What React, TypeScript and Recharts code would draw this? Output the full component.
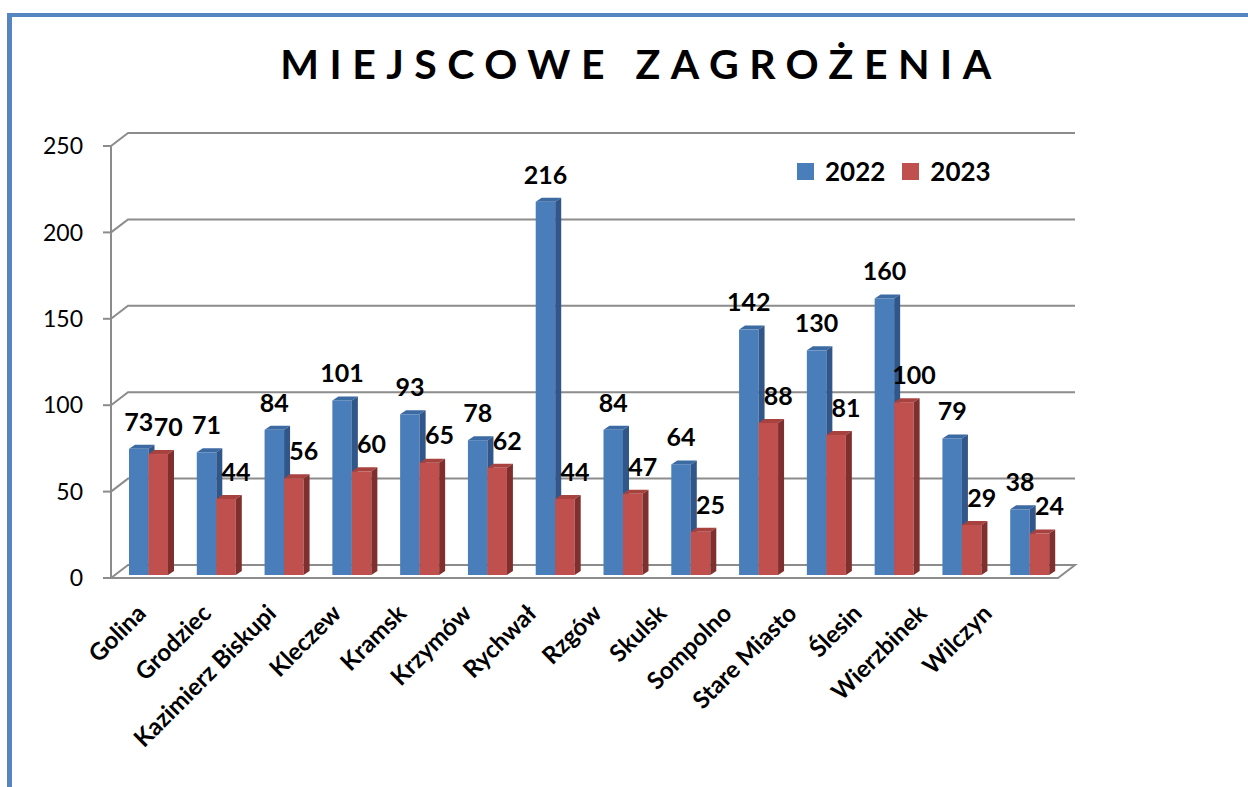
import React from 'react';
import { BarChart, Bar, XAxis, YAxis, CartesianGrid, LabelList } from 'recharts';

const categories = ["Golina", "Grodziec", "Kazimierz Biskupi", "Kleczew", "Kramsk", "Krzymów", "Rychwał", "Rzgów", "Skulsk", "Sompolno", "Stare Miasto", "Ślesin", "Wierzbinek", "Wilczyn"];
const values2022 = [73, 71, 84, 101, 93, 78, 216, 84, 64, 142, 130, 160, 79, 38];
const values2023 = [70, 44, 56, 60, 65, 62, 44, 47, 25, 88, 81, 100, 29, 24];
const seriesNames = ["2022", "2023"];
const yTicks = [0, 50, 100, 150, 200, 250];
const title = "MIEJSCOWE ZAGROŻENIA";

const FONT = 'Lato, "Open Sans", sans-serif';
const GRID = '#8c8c8c';
const DX = 17;
const DY = 13;
const FLOOR_Y = 578;
const PLOT_LEFT = 111;

const blue = { front: '#4A7EBB', top: '#3C6AA3', side: '#30568A' };
const red = { front: '#C0504D', top: '#A8423F', side: '#7F2F2D' };

const data = categories.map((name, i) => ({
  name,
  y2022: values2022[i],
  y2023: values2023[i],
}));

// 3d box: front face + top + right side
const box3d = (c: typeof blue) => (props: any) => {
  const { x, y, width, height } = props;
  if (height == null || width == null) return <g />;
  const d = 6;
  const t = 4;
  const yy = y - 3;
  return (
    <g>
      <rect x={x} y={yy} width={width} height={height} fill={c.front} />
      <polygon
        points={`${x},${yy} ${x + d},${yy - t} ${x + width + d},${yy - t} ${x + width},${yy}`}
        fill={c.top}
      />
      <polygon
        points={`${x + width},${yy} ${x + width + d},${yy - t} ${x + width + d},${yy + height - t} ${x + width},${yy + height}`}
        fill={c.side}
      />
    </g>
  );
};

const valueLabel = (shift: number) => (props: any) => {
  const { x, y, width, value } = props;
  return (
    <text
      x={x + width / 2 + shift}
      y={y - 30}
      dy="0.35em"
      textAnchor="middle"
      fontFamily={FONT}
      fontWeight="bold"
      fontSize={25}
      fill="#000"
    >
      {value}
    </text>
  );
};

// back-wall grid lines with the little diagonal from the front axis
const gridLine = (props: any) => {
  const { x1, x2, y1, index } = props;
  const right = x2 + 11;
  if (Math.abs(y1 - FLOOR_Y) < 1) {
    return (
      <polyline
        key={`g-${index}`}
        points={`${x1},${y1} ${x2 - 6},${y1} ${right},${y1 - DY} ${x1 + DX},${y1 - DY} ${x1},${y1}`}
        fill="none"
        stroke={GRID}
        strokeWidth={2}
      />
    );
  }
  return (
    <polyline
      key={`g-${index}`}
      points={`${x1},${y1} ${x1 + DX},${y1 - DY} ${right},${y1 - DY}`}
      fill="none"
      stroke={GRID}
      strokeWidth={2}
    />
  );
};

const CategoryTick = (props: any) => {
  const { x, y, payload } = props;
  const tx = PLOT_LEFT + 4 + (x - PLOT_LEFT - 4) * 0.96 - 6;
  const ty = y + 23;
  return (
    <text
      transform={`translate(${tx},${ty}) rotate(-45)`}
      textAnchor="end"
      dy="0.35em"
      fontFamily={FONT}
      fontWeight="bold"
      fontSize={24}
      fill="#000"
    >
      {payload.value}
    </text>
  );
};

export default function App() {
  return (
    <div style={{ position: 'absolute', left: 0, top: 0, width: 1248, height: 787, overflow: 'hidden', background: '#fff' }}>
      <div
        style={{
          position: 'absolute',
          left: 7,
          top: 13,
          width: 1400,
          height: 900,
          borderLeft: '5px solid #5785C1',
          borderTop: '4px solid #5785C1',
        }}
      />
      <svg width={1248} height={110} style={{ position: 'absolute', left: 0, top: 0 }}>
        <text
          x={641}
          y={79}
          textAnchor="middle"
          fontFamily={FONT}
          fontWeight="bold"
          fontSize={41}
          letterSpacing={10.5}
          fill="#000"
        >
          {title}
        </text>
      </svg>

      <div style={{ position: 'absolute', left: 0, top: 0 }}>
        <BarChart
          width={1248}
          height={787}
          data={data}
          barGap={0}
          margin={{ top: 146, right: 184, left: 55, bottom: 59 }}
        >
          <CartesianGrid vertical={false} horizontal={gridLine} />
          <XAxis
            dataKey="name"
            axisLine={false}
            tickLine={false}
            interval={0}
            height={150}
            padding={{ left: 4, right: 0 }}
            tick={<CategoryTick />}
          />
          <YAxis
            width={56}
            domain={[0, 250]}
            ticks={yTicks}
            tickSize={8}
            tickMargin={20}
            axisLine={{ stroke: GRID, strokeWidth: 2 }}
            tickLine={{ stroke: GRID, strokeWidth: 2 }}
            tick={{ fill: '#000', fontSize: 23, fontFamily: FONT }}
          />
          <Bar dataKey="y2022" name={seriesNames[0]} fill={blue.front} barSize={19.5} shape={box3d(blue)} isAnimationActive={false}>
            <LabelList dataKey="y2022" content={valueLabel(0)} />
          </Bar>
          <Bar dataKey="y2023" name={seriesNames[1]} fill={red.front} barSize={19.5} shape={box3d(red)} isAnimationActive={false}>
            <LabelList dataKey="y2023" content={valueLabel(10)} />
          </Bar>
        </BarChart>
      </div>

      <div
        style={{
          position: 'absolute',
          left: 797,
          top: 155,
          display: 'flex',
          alignItems: 'center',
          fontFamily: FONT,
          fontWeight: 'bold',
          fontSize: 26,
          color: '#000',
        }}
      >
        {seriesNames.map((s, i) => (
          <div key={s} style={{ display: 'flex', alignItems: 'center', marginRight: i === 0 ? 17 : 0 }}>
            <span style={{ display: 'inline-block', width: 17, height: 17, background: i === 0 ? blue.front : red.front, marginRight: 11 }} />
            <span>{s}</span>
          </div>
        ))}
      </div>
    </div>
  );
}
